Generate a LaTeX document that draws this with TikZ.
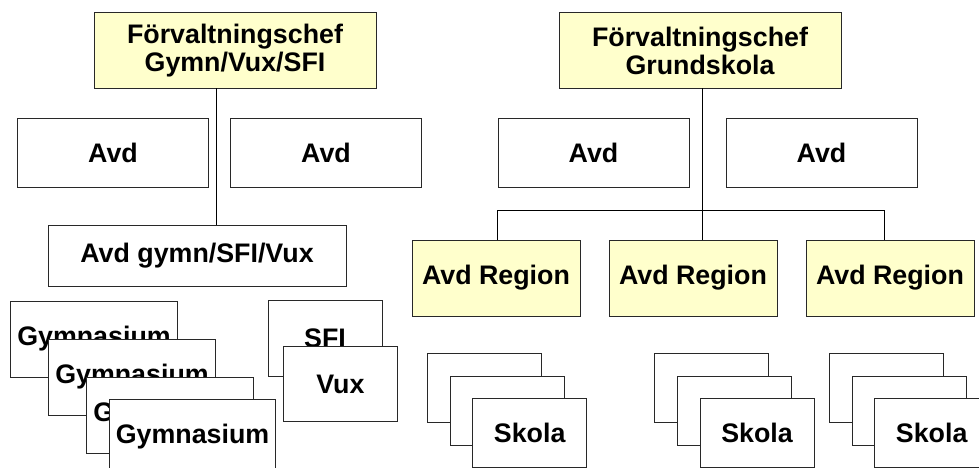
\documentclass[tikz,border=0pt]{standalone}
\usepackage{fontspec}
\setmainfont{Liberation Sans}
\definecolor{paleyellow}{RGB}{255,255,204}
\definecolor{edgegray}{RGB}{40,40,40}
\begin{document}
\begin{tikzpicture}[x=1pt,y=-1pt,
  box/.style={draw=edgegray,line width=1pt,fill=white,inner sep=0pt,outer sep=0pt,
    align=center,font=\fontsize{26.8}{28}\selectfont\bfseries},
  ybox/.style={box,fill=paleyellow},
  conn/.style={draw=black,line width=1pt}]
\clip (0,0) rectangle (979,468);
\fill[white] (0,0) rectangle (979,468);
% top
\node[ybox,minimum width=282pt,minimum height=76pt] (f1) at (235,50.5) {Förvaltningschef\\Gymn/Vux/SFI};
\node[ybox,minimum width=282pt,minimum height=76pt] (f2) at (700,50.5) {Förvaltningschef\\Grundskola};
% connectors
\draw[conn] ([xshift=-19pt]f1.south) -- ++(0,137) coordinate (lc);
\draw[conn] ([xshift=2pt]f2.south) -- ++(0,152) coordinate (rc);
% Avd row
\node[box,minimum width=191pt,minimum height=68pt] (a1) at (113,153) {Avd};
\node[box,minimum width=191pt,minimum height=68pt] (a2) at (326,153) {Avd};
\node[box,minimum width=191pt,minimum height=68pt] (a3) at (593.5,153) {Avd};
\node[box,minimum width=191pt,minimum height=68pt] (a4) at (821.5,153) {Avd};
\node[box,minimum width=298pt,minimum height=61pt] (ag) at (197,255.5) {Avd gymn/SFI/Vux};
% regions
\node[ybox,minimum width=168pt,minimum height=76pt] (r1) at (496,278) {Avd Region};
\node[ybox,minimum width=168pt,minimum height=76pt] (r2) at (693,278) {Avd Region};
\node[ybox,minimum width=168pt,minimum height=76pt] (r3) at (890,278) {Avd Region};
\draw[conn] ([xshift=1pt]r1.north) -- ++(0,-30) -| ([xshift=-6pt]r3.north);
% Gymnasium stack
\node[box,minimum width=166.5pt,minimum height=76pt] (g1) at (94,339) {Gymnasium};
\node[box,minimum width=166.5pt,minimum height=76pt] (g2) at (132,377) {Gymnasium};
\node[box,minimum width=166.5pt,minimum height=76pt] (g3) at (170,415) {Gymnasium};
\node[box,minimum width=166.5pt,minimum height=76pt] (g4) at (192.5,437) {Gymnasium};
% SFI / Vux
\node[box,minimum width=114pt,minimum height=75.5pt] (sfi) at (325,338.5) {SFI};
\node[box,minimum width=114.5pt,minimum height=75.5pt] (vux) at (340.4,384) {Vux};
% Skola stacks
\foreach \n/\x in {s1/484.4, s2/711.7, s3/886.4}{
  \node[box,minimum width=114pt,minimum height=69pt] (\n a) at (\x,387.5) {};
  \node[box,minimum width=114pt,minimum height=69pt] (\n b) at (\x+22.7,410.5) {};
  \node[box,minimum width=114pt,minimum height=69pt] (\n c) at (\x+45.3,433) {Skola};
}
\end{tikzpicture}
\end{document}
